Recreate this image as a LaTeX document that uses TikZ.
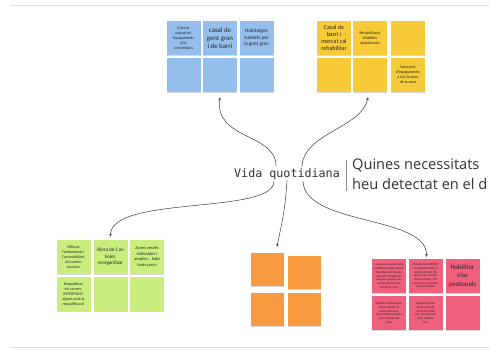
\documentclass[tikz,border=0pt]{standalone}
\usepackage{fontspec}
\setmainfont{Carlito}
\newfontfamily\monofont{DejaVu Sans Mono}
\newfontfamily\headfont{Open Sans}
\usetikzlibrary{shadows,arrows.meta}
\definecolor{sblue}{HTML}{94BEEB}
\definecolor{syellow}{HTML}{F6CA38}
\definecolor{sgreen}{HTML}{C9EE7E}
\definecolor{sorange}{HTML}{F89B40}
\definecolor{spink}{HTML}{F0607C}
\definecolor{ink}{HTML}{333333}
\tikzset{
  sticky/.style={minimum width=34pt, minimum height=34pt, inner sep=1pt, align=center,
    text=black!85, drop shadow={shadow xshift=0pt, shadow yshift=-1.3pt, opacity=0.3}},
  tiny/.style={font=\fontsize{3.0}{3.7}\selectfont},
  small/.style={font=\fontsize{4.0}{5.0}\selectfont},
  mid/.style={font=\fontsize{5.2}{6.6}\selectfont},
  big/.style={font=\fontsize{6.8}{8.2}\selectfont},
  link/.style={draw=ink!90, line width=0.55pt, -{Stealth[length=3pt,width=2.6pt]}},
  rule/.style={draw=black!13, line width=1pt}
}
\begin{document}
\begin{tikzpicture}[x=1pt,y=-1pt]
\useasboundingbox (0,0) rectangle (489,349);
\fill[white] (0,0) rectangle (489,349);
\coordinate (tl) at (10,5); \coordinate (tr) at (489,5);
\coordinate (bl) at (10,347); \coordinate (br) at (489,347);
\draw[rule] (tl) -- (tr);
\draw[rule] (bl) -- (br);

% blue
\node[sticky, fill=sblue, small] (b1) at (183.5,38) {Colonia\\industrial:\\Equipaments\\d'ús\\comunitaris};
\node[sticky, fill=sblue, big] (b2) at (220,38) {casal de\\gent gran\\i de barri};
\node[sticky, fill=sblue, mid] (b3) at (256.5,38) {Habitatges\\tutelats per\\la gent gran};
\node[sticky, fill=sblue] (b4) at (183.5,75) {};
\node[sticky, fill=sblue] (b5) at (220,75) {};
\node[sticky, fill=sblue] (b6) at (256.5,75) {};

% yellow
\node[sticky, fill=syellow, font=\fontsize{6}{7}\selectfont] (y1) at (334,38) {Casal de\\barri i\\mercat cal\\rehabilitar};
\node[sticky, fill=syellow, small] (y2) at (370,38) {Rehabilitació\\d'edificis\\abandonats};
\node[sticky, fill=syellow] (y3) at (408,38) {};
\node[sticky, fill=syellow] (y4) at (334,75) {};
\node[sticky, fill=syellow] (y5) at (370,75) {};
\node[sticky, fill=syellow, small] (y6) at (408,75) {Saturació\\d'equipaments\\a tot l'entorn\\de la zona};

% centre
\node[font=\monofont\fontsize{11.7}{13}\selectfont, text=ink] (vq) at (287,174) {Vida quotidiana};
\coordinate (bar1) at (346,160); \coordinate (bar2) at (346,191);
\draw[black!45, line width=0.6pt] (bar1) -- (bar2);
\node[anchor=west, align=left, inner sep=0pt, text=ink, font=\headfont\fontsize{14.6}{20}\selectfont] (q) at (352,174) {Quines necessitats\\heu detectat en el d};

% green
\node[sticky, fill=sgreen, small] (g1) at (73.5,257) {Millorar\\l'enllumenat i\\l'accessibilitat\\als camins\\escolars};
\node[sticky, fill=sgreen, mid] (g2) at (110.5,257) {Riera de Can\\Soler,\\reorganitzar};
\node[sticky, fill=sgreen, font=\fontsize{4.4}{5.6}\selectfont] (g3) at (147,257) {Zones verdes\\millorades i\\amples... habi\\tants parcs};
\node[sticky, fill=sgreen, small] (g4) at (73.5,294) {Requalificar\\els carrers.\\IMPORTANT:\\alguns amb la\\requalificació};
\node[sticky, fill=sgreen] (g5) at (110.5,294) {};
\node[sticky, fill=sgreen] (g6) at (147,294) {};

% orange
\node[sticky, fill=sorange, minimum width=33pt, minimum height=33pt] (o1) at (267,269.5) {};
\node[sticky, fill=sorange, minimum width=33pt, minimum height=33pt] (o2) at (304,272.5) {};
\node[sticky, fill=sorange, minimum width=33pt, minimum height=33pt] (o3) at (267,309) {};
\node[sticky, fill=sorange, minimum width=33pt, minimum height=33pt] (o4) at (304,309.5) {};

% pink
\node[sticky, fill=spink, tiny] (p1) at (389,276) {Les persones grans amb\\mobilitat reduïda tenen\\dificultats per moure's\\pel barri. Problemes\\amb les voreres i els\\passos de vianants.\\Semàfors curts};
\node[sticky, fill=spink, tiny] (p2) at (425.5,276) {Millorar la mobilitat i\\la connexió entre el\\centre i el barri. Els\\carrers són estrets i\\sense voreres. Cal\\connectar-los amb el\\transport públic};
\node[sticky, fill=spink, big] (p3) at (462.5,276) {Habilitar\\vias\\peatonals};
\node[sticky, fill=spink, tiny] (p4) at (389,313) {Millorar l'enllumenat i\\l'accessibilitat de\\camins escolars,\\que també serveixen\\com a camins de\\salut};
\node[sticky, fill=spink, tiny] (p5) at (425.5,313) {Transport públic\\escàs entre els\\municipis, cada\\cop més gent del\\barri treballa\\fora};
\node[sticky, fill=spink] (p6) at (462.5,313) {};

% connectors
\draw[link] ([xshift=-11pt,yshift=-1pt]vq.north) .. controls (276,133) and (214,140) .. ([yshift=-5pt]b5.south);
\draw[link] ([xshift=15pt,yshift=-2pt]vq.north) .. controls (303,133) and (362,128) .. ([xshift=-2pt,yshift=-5pt]y5.south);
\draw[link] ([xshift=-13pt,yshift=2pt]vq.south) .. controls (274,215) and (110,195) .. ([yshift=3pt]g2.north);
\draw[link] ([yshift=3pt]vq.south) .. controls (285,215) and (280,230) .. ([xshift=10pt,yshift=6pt]o1.north);
\draw[link] ([xshift=16pt,yshift=2pt]vq.south) .. controls (305,226) and (427,215) .. ([xshift=1pt,yshift=2pt]p2.north);
\end{tikzpicture}
\end{document}
